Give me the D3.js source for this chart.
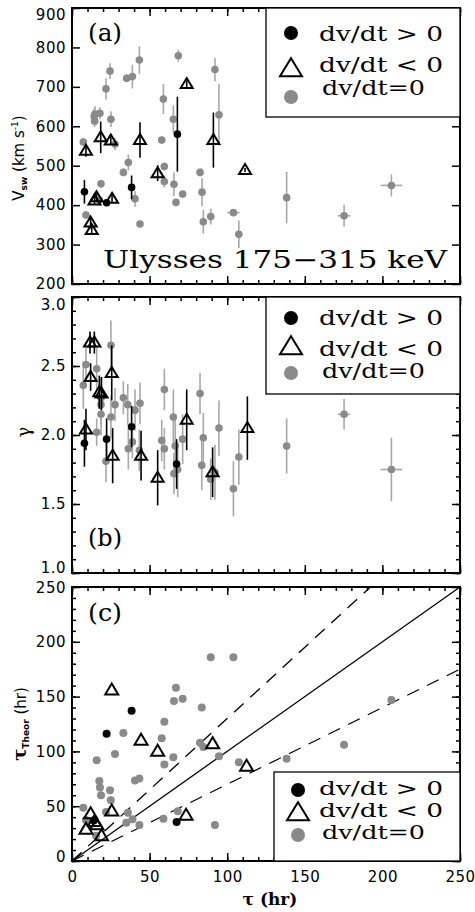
<!DOCTYPE html>
<html><head><meta charset="utf-8">
<script src="https://cdn.jsdelivr.net/npm/d3@7"></script>
<style>
html,body{margin:0;padding:0;background:#fff;}
svg{display:block;}
</style></head>
<body>
<svg id="c" width="475" height="912"></svg>
<script>
// ---- data: [tau, value, err] ----
const aPos  = [[8,434,30],[22.3,406,5],[38.4,445,30],[67.9,580,95]];
const aNeg  = [[9,538,15],[12,356,15],[12.7,337,12],[14.5,412,10],[15.8,420,10],[18.5,572,40],[25,564,10],[25.8,416,10],[43.8,565,45],[55.2,481,20],[73.9,707,10],[91.1,565,70],[111.5,489,5]];
const aZero = [[7.3,560,10],[9,375,10],[14.3,625,20],[14.8,631,20],[14.6,613,15],[18,633,15],[17.6,413,15],[18.7,454,10],[21.9,695,27],[24.5,740,20],[25.1,618,20],[27.7,555,15],[33.1,483,10],[35.2,722,10],[36.3,508,20],[38.9,726,30],[40.6,416,20],[43.4,768,35],[43.8,352,5],[57.8,565,5],[58.9,669,38],[59.5,498,10],[59.5,460,15],[65.3,618,35],[65.7,453,30],[67,407,5],[68.5,779,15],[71.3,428,5],[82.5,483,10],[83.8,433,35],[84.6,358,30],[89.4,371,20],[92.1,744,30],[94.7,629,78],[104,381,5],[107.5,326,35],[138.3,419,65],[175.3,373,28],[205.8,450,28]];
const aZeroTauErr = [[104,381,4],[175.3,373,4],[205.8,450,7]];

const bPos  = [[8,1.94,0.17],[22.3,1.97,0.15],[38.4,2.06,0.15],[67.4,1.79,0.18]];
const bNeg  = [[9,2.04,0.15],[11.6,2.67,0.08],[12,2.42,0.1],[14.4,2.67,0.08],[17.6,2.31,0.12],[19,2.30,0.12],[25.6,2.45,0.2],[26.2,1.85,0.2],[44.5,1.85,0.18],[55.2,1.69,0.2],[73.9,2.11,0.22],[90.6,1.73,0.18],[113,2.05,0.23]];
const bZero = [[7.3,2.36,0.17],[9,2.51,0.12],[15.9,2.48,0.15],[15.9,2.02,0.1],[18.7,2.27,0.15],[18.7,2.22,0.15],[18.7,2.15,0.15],[21.9,1.81,0.15],[25.1,2.65,0.18],[25.1,2.13,0.15],[27.7,2.22,0.12],[33.1,2.27,0.12],[35.9,2.22,0.15],[36.3,1.90,0.15],[38.9,1.95,0.12],[40.6,2.18,0.15],[43.8,2.23,0.15],[43.4,1.89,0.15],[57.8,1.96,0.15],[59.5,1.90,0.15],[59.5,2.33,0.15],[65.3,2.13,0.2],[66.5,1.92,0.2],[65.7,1.72,0.15],[68.1,1.75,0.2],[71.3,1.97,0.18],[82.5,2.30,0.15],[83.6,1.78,0.18],[84.6,1.98,0.18],[89.4,1.68,0.15],[92.1,1.73,0.2],[94.7,2.05,0.2],[104,1.61,0.2],[107.5,1.84,0.2],[138.3,1.92,0.2],[175.3,2.15,0.11],[205.8,1.75,0.23]];
const bZeroTauErr = [[175.3,2.15,4],[205.8,1.75,7]];

const cPos  = [[14,37],[22.3,116],[38.4,137],[67.4,35.5]];
const cNeg  = [[9,28.8],[12,43],[14.5,36],[16,33],[19,23],[25.6,156],[25.6,45.5],[44.5,110],[55.2,100],[73.5,41.6],[90.6,107],[112.5,86.4]];
const cZero = [[7.3,48.5],[9,37.3],[15.5,23],[15.9,92],[17.6,73],[18,67],[18.7,60],[21.9,44.6],[24.5,64.6],[25,55.5],[27.7,97.7],[33.1,116.8],[35,35],[36,44],[39,38],[40.6,73.4],[43.4,75.2],[43.4,32.8],[57.8,112],[59.5,127],[59.5,88],[58.9,38.5],[65.3,94.7],[65.7,146],[67,158],[71.3,148],[68.1,45.5],[82.5,108],[83.6,140],[84.6,104],[89.4,186],[92.1,32.8],[94.7,95.6],[104,186],[107.5,90],[138.3,93.4],[175.3,106],[205.8,147]];
const ratioLines = [1, 1.3, 0.7];

const xTicks = [0,50,100,150,200,250];
const aTicks = [200,300,400,500,600,700,800,900];
const bTicks = [1.0,1.5,2.0,2.5,3.0];
const cTicks = [0,50,100,150,200,250];
const legendLabels = ["dv/dt > 0","dv/dt < 0","dv/dt=0"];

// ---- layout ----
const svg = d3.select("#c");
const X0 = 72, X1 = 460;
const x = d3.scaleLinear().domain([0,250]).range([X0,X1]);
const GRAY = "#8a8a8a", GRAYBAR = "#a8a8a8";
const SANS = "DejaVu Sans, sans-serif";
const SERIF = "DejaVu Serif, Liberation Serif, serif";

function panel(yScale, majors, minorStep, showX, shiftTop, shiftBottom) {
  const [yb, yt] = yScale.range();
  const g = svg.append("g");
  const dom = yScale.domain();
  const minors = minorStep ? d3.range(dom[0], dom[1] + 1e-9, minorStep) : [];
  const xMinor = d3.range(0, 251, 10);
  const strip = s => s.call(gg => gg.select(".domain").remove());
  // left
  g.append("g").attr("transform",`translate(${X0},0)`)
    .call(d3.axisLeft(yScale).tickValues(majors).tickSizeInner(-8).tickSizeOuter(0).tickPadding(6)
      .tickFormat(majors[1] - majors[0] < 1 ? d3.format(".1f") : d3.format("d")))
    .call(strip)
    .call(gg => gg.selectAll("text").attr("font-family",SANS).attr("font-size",15).attr("fill","#000").attr("letter-spacing","0.5px"))
    .call(gg => gg.selectAll(".tick").filter(d => d === dom[1]).select("text").attr("transform",`translate(0,${shiftTop})`))
    .call(gg => gg.selectAll(".tick").filter(d => d === dom[0]).select("text").attr("transform",`translate(0,${shiftBottom})`))
    .call(gg => gg.selectAll("line").attr("stroke-width",1.5));
  if (minorStep) g.append("g").attr("transform",`translate(${X0},0)`)
    .call(d3.axisLeft(yScale).tickValues(minors).tickSizeInner(-4).tickSizeOuter(0).tickFormat(""))
    .call(strip).call(gg => gg.selectAll("line").attr("stroke-width",1.5));
  // right
  g.append("g").attr("transform",`translate(${X1},0)`)
    .call(d3.axisRight(yScale).tickValues(majors).tickSizeInner(-8).tickSizeOuter(0).tickFormat(""))
    .call(strip).call(gg => gg.selectAll("line").attr("stroke-width",1.5));
  if (minorStep) g.append("g").attr("transform",`translate(${X1},0)`)
    .call(d3.axisRight(yScale).tickValues(minors).tickSizeInner(-4).tickSizeOuter(0).tickFormat(""))
    .call(strip).call(gg => gg.selectAll("line").attr("stroke-width",1.5));
  // bottom
  g.append("g").attr("transform",`translate(0,${yb})`)
    .call(d3.axisBottom(x).tickValues(xTicks).tickSizeInner(-8).tickSizeOuter(0).tickPadding(10)
      .tickFormat(showX ? d3.format("d") : ""))
    .call(strip)
    .call(gg => gg.selectAll("text").attr("font-family",SANS).attr("font-size",15).attr("fill","#000").attr("letter-spacing","0.5px"))
    .call(gg => gg.selectAll("line").attr("stroke-width",1.5));
  g.append("g").attr("transform",`translate(0,${yb})`)
    .call(d3.axisBottom(x).tickValues(xMinor).tickSizeInner(-4).tickSizeOuter(0).tickFormat(""))
    .call(strip).call(gg => gg.selectAll("line").attr("stroke-width",1.5));
  // top
  g.append("g").attr("transform",`translate(0,${yt})`)
    .call(d3.axisTop(x).tickValues(xTicks).tickSizeInner(-8).tickSizeOuter(0).tickFormat(""))
    .call(strip).call(gg => gg.selectAll("line").attr("stroke-width",1.5));
  g.append("g").attr("transform",`translate(0,${yt})`)
    .call(d3.axisTop(x).tickValues(xMinor).tickSizeInner(-4).tickSizeOuter(0).tickFormat(""))
    .call(strip).call(gg => gg.selectAll("line").attr("stroke-width",1.5));
  return g;
}
function frame(yScale) {
  const [yb, yt] = yScale.range();
  svg.append("rect").attr("x",X0).attr("y",yt).attr("width",X1-X0).attr("height",yb-yt)
    .attr("fill","none").attr("stroke","#000").attr("stroke-width",2);
}
function triPath(w,h){ return `M0,${-h*0.6}L${w/2},${h*0.4}L${-w/2},${h*0.4}Z`; }

function errPoints(yScale, data, kind, tauErr) {
  const g = svg.append("g");
  const barCol = kind === "zero" ? GRAYBAR : "#000";
  g.selectAll("line.ev").data(data).join("line")
    .attr("x1",d=>x(d[0])).attr("x2",d=>x(d[0]))
    .attr("y1",d=>yScale(d[1]-d[2])).attr("y2",d=>yScale(d[1]+d[2]))
    .attr("stroke",barCol).attr("stroke-width",1.6);
  if (tauErr) g.selectAll("line.eh").data(tauErr).join("line")
    .attr("x1",d=>x(d[0]-d[2])).attr("x2",d=>x(d[0]+d[2]))
    .attr("y1",d=>yScale(d[1])).attr("y2",d=>yScale(d[1]))
    .attr("stroke",barCol).attr("stroke-width",1.6);
  marks(g, yScale, data, kind, 3.8, 12, 10);
}
function marks(g, yScale, data, kind, r, tw, th) {
  if (kind === "neg") {
    g.selectAll("path.m").data(data).join("path")
      .attr("transform",d=>`translate(${x(d[0])},${yScale(d[1])})`)
      .attr("d",triPath(tw,th)).attr("fill","none").attr("stroke","#000").attr("stroke-width",2);
  } else {
    g.selectAll("circle.m").data(data).join("circle")
      .attr("cx",d=>x(d[0])).attr("cy",d=>yScale(d[1])).attr("r",r)
      .attr("fill",kind==="pos"?"#000":GRAY);
  }
}
function legend(box, markerX, rows, textX, textW, fs) {
  svg.append("rect").attr("x",box[0]).attr("y",box[1]).attr("width",box[2]-box[0]).attr("height",box[3]-box[1])
    .attr("fill","#fff").attr("stroke","#000").attr("stroke-width",1.3);
  const g = svg.append("g");
  rows.forEach((r,i) => {
    if (i === 1) g.append("path").attr("transform",`translate(${markerX},${r.my})`).attr("d",triPath(22,18))
      .attr("fill","none").attr("stroke","#000").attr("stroke-width",2);
    else g.append("circle").attr("cx",markerX).attr("cy",r.my).attr("r",7).attr("fill",i===0?"#000":GRAY);
    g.append("text").attr("x",textX + (i===2?3:0)).attr("y",r.ty).text(legendLabels[i])
      .attr("font-family",SERIF).attr("font-size",fs)
      .attr("textLength",textW[i]).attr("lengthAdjust","spacingAndGlyphs");
  });
}

// ---- panel a ----
const ya = d3.scaleLinear().domain([200,900]).range([284,8]);
panel(ya, aTicks, null, false, 7, 0);
errPoints(ya, aZero, "zero", aZeroTauErr);
errPoints(ya, aPos, "pos");
errPoints(ya, aNeg, "neg");
frame(ya);
legend([266,8,460,117], 291, [{my:33,ty:41},{my:69,ty:72},{my:97,ty:95}], 319, [124,124,103], 21);
svg.append("text").attr("x",88).attr("y",41).text("(a)").attr("font-family",SERIF).attr("font-size",24)
  .attr("textLength",34).attr("lengthAdjust","spacingAndGlyphs");
svg.append("text").attr("x",103).attr("y",268).text("Ulysses 175\u2212315 keV").attr("font-family",SERIF).attr("font-size",24)
  .attr("textLength",344).attr("lengthAdjust","spacingAndGlyphs");
{
  const t = svg.append("text").attr("transform","translate(24,158) rotate(-90)").attr("text-anchor","middle")
    .attr("font-family",SANS).attr("font-size",15);
  t.append("tspan").text("V");
  t.append("tspan").text("sw").attr("font-size",9).attr("dy",3).attr("font-weight","bold");
  t.append("tspan").text(" (km s").attr("dy",-3);
  t.append("tspan").text("-1").attr("font-size",9).attr("dy",-6);
  t.append("tspan").text(")").attr("dy",6);
}

// ---- panel b ----
const yb = d3.scaleLinear().domain([1,3]).range([573,297]);
panel(yb, bTicks, 0.1, false, 8, -5);
errPoints(yb, bZero, "zero", bZeroTauErr);
errPoints(yb, bPos, "pos");
errPoints(yb, bNeg, "neg");
frame(yb);
legend([266,297,460,394], 291, [{my:318,ty:325},{my:347,ty:356},{my:373,ty:378}], 319, [124,124,103], 20);
svg.append("text").attr("x",88).attr("y",546).text("(b)").attr("font-family",SERIF).attr("font-size",24)
  .attr("textLength",34).attr("lengthAdjust","spacingAndGlyphs");
svg.append("text").attr("transform","translate(30,432) rotate(-90)").attr("text-anchor","middle")
  .attr("font-family",SERIF).attr("font-size",18).text("\u03b3");

// ---- panel c ----
const yc = d3.scaleLinear().domain([0,250]).range([861,587]);
panel(yc, cTicks, 10, true, 1, -4);
{
  const gl = svg.append("g");
  ratioLines.forEach((k,i) => {
    const xe = Math.min(250, 250/k);
    gl.append("line").attr("x1",x(0)).attr("y1",yc(0)).attr("x2",x(xe)).attr("y2",yc(k*xe))
      .attr("stroke","#000").attr("stroke-width",1.3)
      .attr("stroke-dasharray", i===0 ? null : "13,9");
  });
  const gz = svg.append("g"); marks(gz, yc, cZero, "zero", 4, 13, 11);
  const gp = svg.append("g"); marks(gp, yc, cPos, "pos", 4, 13, 11);
  const gn = svg.append("g"); marks(gn, yc, cNeg, "neg", 4, 13, 11);
}
frame(yc);
legend([274,772,460,861], 298, [{my:790,ty:795},{my:813,ty:817},{my:835,ty:839}], 319, [124,124,103], 18);
svg.append("text").attr("x",88).attr("y",621).text("(c)").attr("font-family",SERIF).attr("font-size",24)
  .attr("textLength",34).attr("lengthAdjust","spacingAndGlyphs");
{
  const t = svg.append("text").attr("transform","translate(26,724) rotate(-90)").attr("text-anchor","middle")
    .attr("font-family",SANS).attr("font-size",15);
  t.append("tspan").text("\u03c4").attr("font-family",SERIF).attr("font-weight","bold").attr("font-size",18);
  t.append("tspan").text("Theor").attr("font-size",9).attr("dy",3).attr("font-weight","bold");
  t.append("tspan").text(" (hr)").attr("dy",-3);
}
svg.append("text").attr("x",270).attr("y",905).attr("text-anchor","middle")
  .attr("font-family",SERIF).attr("font-weight","bold").attr("font-size",17).text("\u03c4 (hr)");
</script>
</body></html>
